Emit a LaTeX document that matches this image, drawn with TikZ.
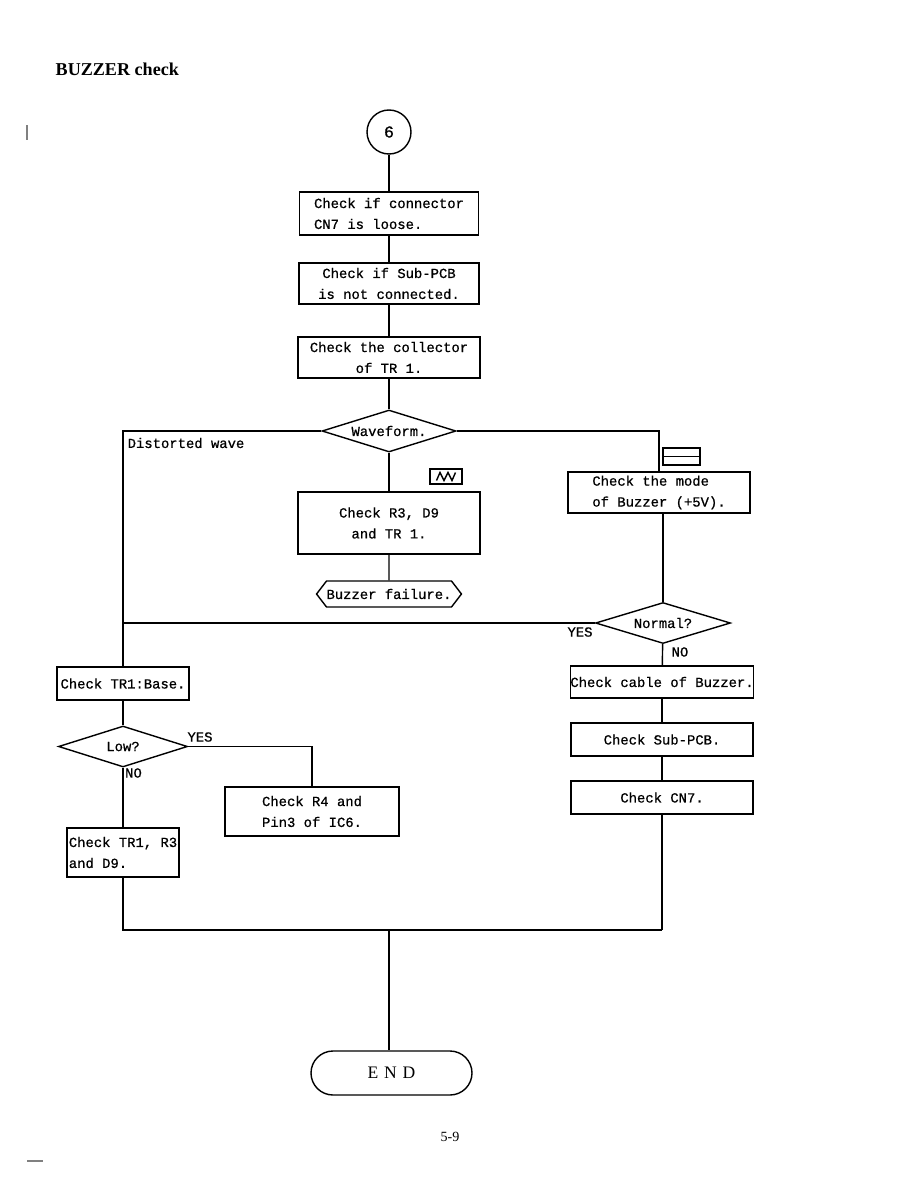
\documentclass[tikz,border=0pt]{standalone}
\usepackage{fontspec}
\setmainfont{Liberation Serif}
\setmonofont{Liberation Mono}[FakeBold=0.7]
\usepackage{tikz}
\usetikzlibrary{shapes.geometric, shapes.symbols, positioning, calc}

\begin{document}
\begin{tikzpicture}[
    line width=0.8pt,
    box/.style = {rectangle, draw, align=center, font=\ttfamily\fontsize{7.9}{11.9}\selectfont, inner sep=0pt, minimum width=3.64cm, minimum height=0.82cm},
    lbox/.style = {box, align=left},
    choice/.style = {diamond, draw, aspect=3.2, inner sep=0pt, font=\ttfamily\fontsize{7.9}{11.9}\selectfont, minimum width=2.68cm, minimum height=0.84cm},
    tag/.style = {inner sep=0pt, font=\ttfamily\fontsize{7.9}{11.9}\selectfont},
    sym/.style = {rectangle, draw, inner sep=0pt, minimum width=0.64cm, minimum height=0.3cm},
    conn/.style = {draw}
]
\useasboundingbox (0,0) rectangle (18.36,-23.76);

% Heading
\node (title) [anchor=base west, inner sep=0pt, font=\bfseries\fontsize{10.3}{12}\selectfont] at (1.1, -1.52) {BUZZER check};
\draw [line width=0.6pt, gray] (0.54, -2.5) -- (0.54, -2.8);

% Main column
\node (start) [circle, draw, inner sep=0pt, minimum size=0.88cm, font=\ttfamily\fontsize{9.5}{11.9}\selectfont] at (7.78, -2.64) {6};
\node (cn7) [lbox, minimum width=3.58cm, minimum height=0.86cm] at (7.78, -4.27) {Check if connector\\CN7 is loose.};
\node (subpcb) [box, minimum width=3.6cm] at (7.78, -5.67) {Check if Sub-PCB\\is not connected.};
\node (coll) [box] at (7.78, -7.15) {Check the collector\\of TR 1.};
\node (wave) [choice] at (7.78, -8.62) {Waveform.};
\node (r3d9) [box, minimum height=1.24cm] at (7.78, -10.46) {Check R3, D9\\and TR 1.};
\node (fail) [signal, signal to=west and east, signal pointer angle=105, draw, inner sep=0pt, minimum width=2.86cm, minimum height=0.52cm, font=\ttfamily\fontsize{7.9}{11.9}\selectfont] at (7.78, -11.88) {Buzzer failure.};

% Waveform symbols
\node (ac) [sym] at (8.92, -9.53) {};
\draw ([shift={(-0.19,-0.08)}]ac.center) -- ++(0.07,0.16) -- ++(0.08,-0.16) -- ++(0.08,0.16) -- ++(0.08,-0.16) -- ++(0.07,0.16);
\node (dc) [sym, minimum width=0.74cm, minimum height=0.34cm] at (13.63, -9.13) {};
\draw (dc.west) -- (dc.east);

% Right column
\node (mode) [lbox] at (13.18, -9.85) {Check the mode\\of Buzzer (+5V).};
\node (normal) [choice, minimum width=2.7cm, minimum height=0.82cm] at (13.26, -12.46) {Normal?};
\node (cable) [box, minimum height=0.64cm] at (13.24, -13.64) {Check cable of Buzzer.};
\node (spcb) [box, minimum height=0.66cm] at (13.24, -14.79) {Check Sub-PCB.};
\node (cnb) [box, minimum height=0.66cm] at (13.24, -15.95) {Check CN7.};

% Left column
\node (dist) [tag, anchor=west] at (2.54, -8.86) {Distorted wave};
\node (base) [box, minimum width=2.64cm, minimum height=0.66cm] at (2.46, -13.67) {Check TR1:Base.};
\node (low) [choice, minimum width=2.58cm, minimum height=0.82cm] at (2.46, -14.93) {Low?};
\node (r4) [lbox, minimum width=3.48cm, minimum height=0.98cm] at (6.24, -16.23) {Check R4 and\\Pin3 of IC6.};
\node (tr1) [lbox, minimum width=2.24cm, minimum height=0.98cm] at (2.46, -17.05) {Check TR1, R3\\and D9.};

% Labels
\node (yes1) [tag] at (11.6, -12.64) {YES};
\node (no1) [tag] at (13.6, -13.04) {NO};
\node (yes2) [tag] at (4.0, -14.74) {YES};
\node (no2) [tag] at (2.67, -15.46) {NO};

% Joins and end
\coordinate (jl) at (2.46, -18.6);
\coordinate (jm) at (7.78, -18.6);
\coordinate (jr) at (13.24, -18.6);
\node (endn) [rectangle, draw, rounded corners=0.44cm, minimum width=3.22cm, minimum height=0.88cm, inner sep=0pt, font=\fontsize{10}{12}\selectfont] at (7.83, -21.46) {E\,\,N\,\,D};
\node (page) [inner sep=0pt, font=\fontsize{8}{10}\selectfont] at (9.0, -22.74) {5-9};
\draw [line width=0.6pt, gray] (0.54, -23.22) -- (0.86, -23.22);

% Lines
\draw [conn] (start) -- (cn7);
\draw [conn] (cn7) -- (subpcb);
\draw [conn] (subpcb) -- (coll);
\draw [conn] (coll) -- (wave);
\draw [conn] (wave) -- (r3d9);
\draw [conn] (r3d9) -- (fail);

\draw [conn] (wave.west) -| (base.north);
\draw [conn] (wave.east) -| (mode.north);
\draw [conn] (mode.south -| normal.north) -- (normal.north);
\draw [conn] (normal.west) -- (normal.west -| base.north);
\draw [conn] (normal) -- (cable);
\draw [conn] (cable) -- (spcb);
\draw [conn] (spcb) -- (cnb);
\draw [conn] (cnb) -- (jr);

\draw [conn] (base) -- (low);
\draw [conn] (low.east) -| (r4.north);
\draw [conn] (low) -- (tr1);
\draw [conn] (tr1) -- (jl) -- (jr);
\draw [conn] (jm) -- (jm |- endn.north);

\end{tikzpicture}
\end{document}
